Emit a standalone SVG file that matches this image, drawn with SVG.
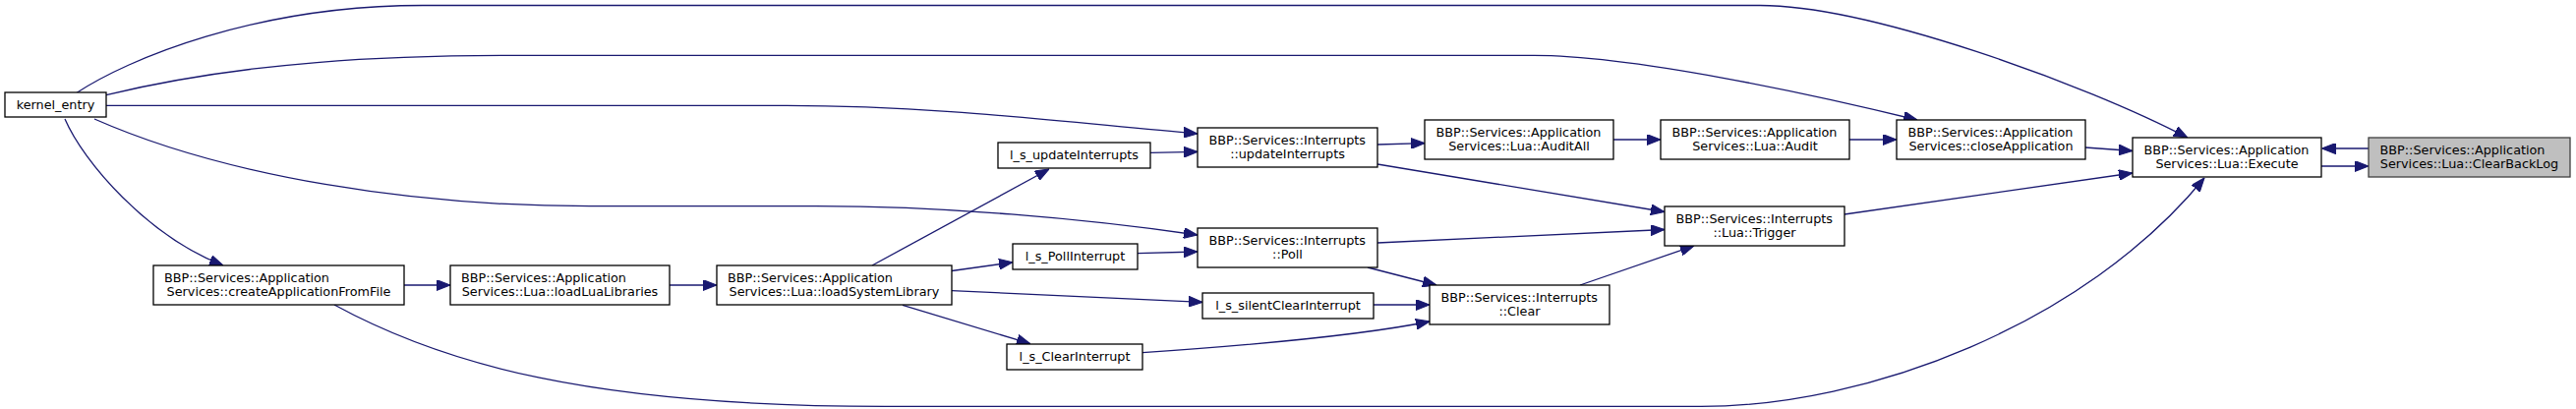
<svg xmlns="http://www.w3.org/2000/svg" width="2620" height="416" viewBox="0 0 2620 416">
<style>
.n rect{fill:#ffffff;stroke:#000000;stroke-width:1.3}
.f rect{fill:#bfbfbf;stroke:#404040;stroke-width:1.3}
text{font-family:"DejaVu Sans",sans-serif;font-size:12.8px;fill:#000000}
.s{text-anchor:start}
.m{text-anchor:middle}
.e path{fill:none;stroke:#191970;stroke-width:1.3;marker-end:url(#ah)}
</style>
<defs>
<marker id="ah" markerUnits="userSpaceOnUse" markerWidth="14" markerHeight="11" viewBox="0 0 13 10" refX="13" refY="5" orient="auto">
<path d="M0,0 L13,5 L0,10 z" fill="#191970" stroke="#191970" stroke-width="1"/>
</marker>
</defs>
<rect width="2620" height="416" fill="#ffffff"/>
<g class="e" id="edges">
<path d="M2409,151 L2361.5,151"/>
<path d="M2361,169 L2409,169"/>
<path d="M2121,150 L2169,153.5"/>
<path d="M1876,218 L2169,176"/>
<path d="M77,95 C130,60 260,5.5 430,5.5 L1790,5.5 C1900,5.5 2120,85 2225,140"/>
<path d="M108,96.6 C250,62 400,56.4 520,56.4 L1560,56.4 C1660,56.4 1840,95 1950,122"/>
<path d="M108,107.4 L800,107.4 C950,107.4 1080,124 1218,136"/>
<path d="M96,121 C230,180 420,209.7 600,209.7 L830,209.7 C960,209.7 1100,222 1218,239"/>
<path d="M66,121 C85,165 150,240 227,270"/>
<path d="M340,310 C450,370 600,413.4 900,413.4 L1730,413.4 C1900,413.4 2120,330 2242,181"/>
<path d="M411,290 L458,290"/>
<path d="M681,290 L729,290"/>
<path d="M887,270 L1067,172"/>
<path d="M968,275.5 L1030,266.8"/>
<path d="M968,295.6 L1223,307.4"/>
<path d="M918,310.4 L1048,349.7"/>
<path d="M1170,155.4 L1218,154.4"/>
<path d="M1401,147 L1449,145.6"/>
<path d="M1641,142 L1689,142"/>
<path d="M1881,142 L1929,142"/>
<path d="M1401,167 L1693,215.5"/>
<path d="M1157,257.7 L1218,256"/>
<path d="M1401,247 L1693,233.5"/>
<path d="M1391,272 L1461,290"/>
<path d="M1397,310 L1454,310"/>
<path d="M1162,358.7 C1260,352 1380,342 1454,327"/>
<path d="M1607,290 L1723,250"/>
</g>
<g id="kernel_entry" class="n"><rect x="5" y="94" width="103" height="25"/><text class="m" x="56.5" y="111">kernel_entry</text></g>
<g id="createApplicationFromFile" class="n"><rect x="156" y="270" width="255" height="40"/><text class="s" x="167" y="286.5">BBP::Services::Application</text><text class="m" x="283.5" y="300.5">Services::createApplicationFromFile</text></g>
<g id="loadLuaLibraries" class="n"><rect x="458" y="270" width="223" height="40"/><text class="s" x="469" y="286.5">BBP::Services::Application</text><text class="m" x="569.5" y="300.5">Services::Lua::loadLuaLibraries</text></g>
<g id="loadSystemLibrary" class="n"><rect x="729" y="270" width="239" height="40"/><text class="s" x="740" y="286.5">BBP::Services::Application</text><text class="m" x="848.5" y="300.5">Services::Lua::loadSystemLibrary</text></g>
<g id="l_s_updateInterrupts" class="n"><rect x="1015" y="145" width="155" height="26"/><text class="m" x="1092.5" y="162">l_s_updateInterrupts</text></g>
<g id="l_s_PollInterrupt" class="n"><rect x="1030" y="248" width="127" height="26"/><text class="m" x="1093.5" y="265">l_s_PollInterrupt</text></g>
<g id="l_s_silentClearInterrupt" class="n"><rect x="1223" y="298" width="174" height="26"/><text class="m" x="1310" y="315">l_s_silentClearInterrupt</text></g>
<g id="l_s_ClearInterrupt" class="n"><rect x="1024" y="350" width="138" height="26"/><text class="m" x="1093" y="367">l_s_ClearInterrupt</text></g>
<g id="updateInterrupts" class="n"><rect x="1218" y="130" width="183" height="40"/><text class="s" x="1229.5" y="146.5">BBP::Services::Interrupts</text><text class="m" x="1309.5" y="160.5">::updateInterrupts</text></g>
<g id="Poll" class="n"><rect x="1218" y="232" width="183" height="40"/><text class="s" x="1229.5" y="248.5">BBP::Services::Interrupts</text><text class="m" x="1309.5" y="262.5">::Poll</text></g>
<g id="Clear" class="n"><rect x="1454" y="290" width="183" height="40"/><text class="s" x="1465.5" y="306.5">BBP::Services::Interrupts</text><text class="m" x="1545.5" y="320.5">::Clear</text></g>
<g id="AuditAll" class="n"><rect x="1449" y="122" width="192" height="40"/><text class="s" x="1460.5" y="138.5">BBP::Services::Application</text><text class="m" x="1545" y="152.5">Services::Lua::AuditAll</text></g>
<g id="Audit" class="n"><rect x="1689" y="122" width="192" height="40"/><text class="s" x="1700.5" y="138.5">BBP::Services::Application</text><text class="m" x="1785" y="152.5">Services::Lua::Audit</text></g>
<g id="Trigger" class="n"><rect x="1693" y="210" width="183" height="40"/><text class="s" x="1704.5" y="226.5">BBP::Services::Interrupts</text><text class="m" x="1784.5" y="240.5">::Lua::Trigger</text></g>
<g id="closeApplication" class="n"><rect x="1929" y="122" width="192" height="40"/><text class="s" x="1940.5" y="138.5">BBP::Services::Application</text><text class="m" x="2025" y="152.5">Services::closeApplication</text></g>
<g id="Execute" class="n"><rect x="2169" y="140" width="192" height="40"/><text class="s" x="2180.5" y="156.5">BBP::Services::Application</text><text class="m" x="2265" y="170.5">Services::Lua::Execute</text></g>
<g id="ClearBackLog" class="f"><rect x="2409" y="140" width="205" height="40"/><text class="s" x="2420.5" y="156.5">BBP::Services::Application</text><text class="m" x="2511.5" y="170.5">Services::Lua::ClearBackLog</text></g>
</svg>
